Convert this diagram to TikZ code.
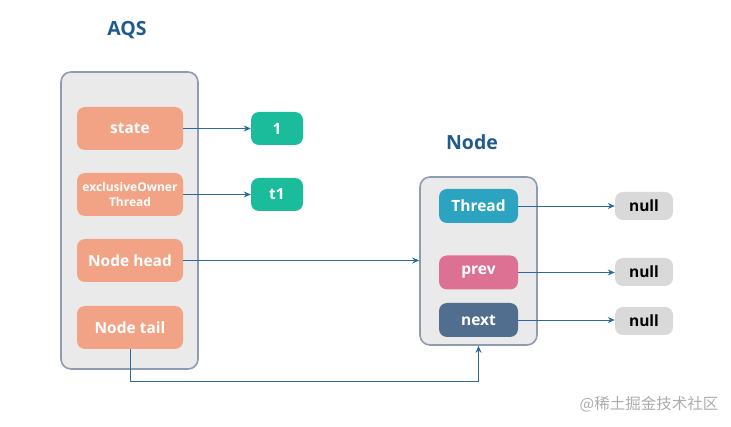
\documentclass[tikz,border=0pt]{standalone}
\usepackage{fontspec}
\setmainfont{Open Sans}
\newfontfamily\cjk{Noto Sans CJK SC}
\usetikzlibrary{arrows.meta,positioning}
\definecolor{titleblue}{HTML}{1F5C8C}
\definecolor{salmon}{HTML}{F2A385}
\definecolor{valgreen}{HTML}{1BBC9B}
\definecolor{threadblue}{HTML}{2CA3C1}
\definecolor{prevpink}{HTML}{DD7193}
\definecolor{nextblue}{HTML}{516E8F}
\definecolor{nullgray}{HTML}{D9D9D9}
\definecolor{panelfill}{HTML}{EAEAEA}
\definecolor{paneldraw}{HTML}{8E9BB0}
\definecolor{linkblue}{HTML}{2A6A9C}

\begin{document}
\begin{tikzpicture}[
  x=1pt, y=-1pt,
  panel/.style={draw=paneldraw, fill=panelfill, line width=1.6pt, rounded corners=10pt},
  field/.style={fill=salmon, text=white, rounded corners=8pt, align=center, font=\bfseries\fontsize{15.5}{17}\selectfont, minimum width=106pt, minimum height=43pt, inner sep=1pt},
  val/.style={fill=valgreen, text=white, rounded corners=8pt, font=\bfseries\fontsize{15.5}{17}\selectfont, minimum width=52pt, minimum height=33pt, inner sep=1pt},
  member/.style={text=white, rounded corners=8pt, font=\bfseries\fontsize{15.5}{17}\selectfont, minimum width=79pt, minimum height=34pt, inner sep=1pt},
  nullbox/.style={fill=nullgray, text=black, rounded corners=8pt, font=\bfseries\fontsize{15.5}{17}\selectfont, minimum width=58pt, minimum height=28pt, inner sep=1pt},
  title/.style={text=titleblue, font=\bfseries\fontsize{19.5}{21}\selectfont},
  link/.style={draw=linkblue, line width=0.9pt, -{Stealth[length=7pt,width=6pt]}}
]
\useasboundingbox (0,0) rectangle (731,427);

% AQS side
\node[title] (aqstitle) at (127,30) {AQS};
\node[panel, minimum width=137pt, minimum height=297pt] (aqs) at (129.5,220.5) {};
\node[field] (state) at (130,128.5) {state};
\node[field, font=\bfseries\fontsize{12}{14.5}\selectfont] (owner) at (130,194.5) {exclusiveOwner\\Thread};
\node[field] (head) at (130,260.5) {Node head};
\node[field] (tail) at (130,327.5) {Node tail};
\node[val] (one) at (277,128.5) {1};
\node[val] (tone) at (277,194.5) {t1};

% Node side
\node[title] (nodetitle) at (472,142) {Node};
\node[panel, minimum width=117pt, minimum height=168pt] (nodebox) at (478.5,261) {};
\node[member, fill=threadblue] (thread) at (478.5,206) {Thread};
\node[member, fill=prevpink] (prev) at (478.5,272.5) {prev};
\node[member, fill=nextblue] (next) at (478.5,320) {next};
\node[nullbox] (null1) at (644,206) {null};
\node[nullbox] (null2) at (644,272) {null};
\node[nullbox] (null3) at (644,321) {null};

\coordinate (bend) at (130,381);

\draw[link] (state) -- (one);
\draw[link] (owner) -- (tone);
\draw[link] (head) -- (head -| nodebox.west);
\draw[link] (thread) -- (thread -| null1.west);
\draw[link] (prev) -- (prev -| null2.west);
\draw[link] (next) -- (next -| null3.west);
\draw[link] (tail) -- (bend) -| (nodebox);

\node[text=gray!65, font=\cjk\fontsize{15.5}{17}\selectfont] (mark) at (649,404) {@稀土掘金技术社区};
\end{tikzpicture}
\end{document}
